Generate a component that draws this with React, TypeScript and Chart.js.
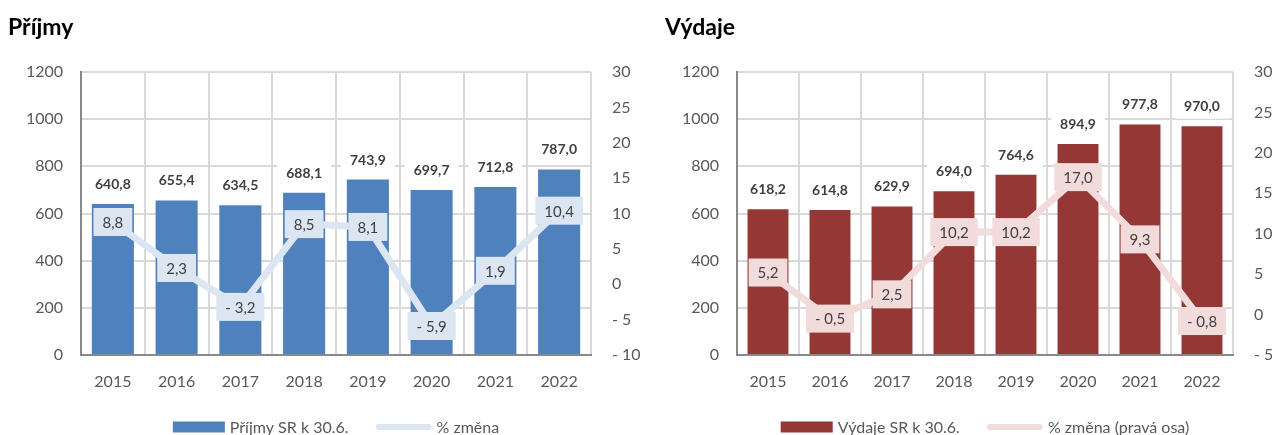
import React, { useEffect, useRef } from "react";
import { Chart, registerables } from "chart.js";

Chart.register(...registerables);

const years = ["2015", "2016", "2017", "2018", "2019", "2020", "2021", "2022"];
const prijmy = [640.8, 655.4, 634.5, 688.1, 743.9, 699.7, 712.8, 787.0];
const prijmyChange = [8.8, 2.3, -3.2, 8.5, 8.1, -5.9, 1.9, 10.4];
const vydaje = [618.2, 614.8, 629.9, 694.0, 764.6, 894.9, 977.8, 970.0];
const vydajeChange = [5.2, -0.5, 2.5, 10.2, 10.2, 17.0, 9.3, -0.8];

const leftAxis = { min: 0, max: 1200, step: 200 };
const prijmyRightAxis = { min: -10, max: 30, step: 5 };
const vydajeRightAxis = { min: -5, max: 30, step: 5 };

const FONT = "Lato, 'Open Sans', sans-serif";
const GRID = "#d9d9d9";
const AXIS = "#898989";
const TICK = "#595959";
const LABEL = "#404040";

const fmtVal = (v: number) =>
  (v < 0 ? "- " : "") + Math.abs(v).toFixed(1).replace(".", ",");
const fmtTick = (v: number) => (v < 0 ? "- " + Math.abs(v) : String(v));

const valueLabels = {
  id: "valueLabels",
  afterDatasetDraw(chart: any, args: any, opts: any) {
    const ctx = chart.ctx;
    const meta = chart.getDatasetMeta(args.index);
    const ds = chart.data.datasets[args.index];
    ctx.save();
    ctx.textAlign = "center";
    ctx.textBaseline = "middle";
    if (ds.type === "bar") {
      ctx.font = `bold 14px ${FONT}`;
      meta.data.forEach((el: any, i: number) => {
        const t = fmtVal(ds.data[i]);
        const w = ctx.measureText(t).width + 18;
        const cy = el.y - 20.5;
        ctx.fillStyle = "#ffffff";
        ctx.fillRect(el.x - w / 2, cy - 13, w, 26);
        ctx.fillStyle = LABEL;
        ctx.fillText(t, el.x, cy + 1);
      });
    } else {
      ctx.font = `15px ${FONT}`;
      meta.data.forEach((el: any, i: number) => {
        const t = fmtVal(ds.data[i]);
        const w = ctx.measureText(t).width + 18;
        ctx.fillStyle = opts.lineBox;
        ctx.fillRect(el.x - w / 2, el.y - 14, w, 28);
        ctx.fillStyle = LABEL;
        ctx.fillText(t, el.x, el.y + 1);
      });
    }
    ctx.restore();
  },
};

const customLegend = {
  id: "customLegend",
  afterDraw(chart: any, _args: any, opts: any) {
    const { ctx, chartArea } = chart;
    const items = opts.items as { kind: string; color: string; text: string }[];
    ctx.save();
    ctx.font = `16px ${FONT}`;
    const sw = (k: string) => (k === "box" ? 52 : 56);
    const gapIn = 5;
    const gapOut = 27;
    let total = 0;
    items.forEach((it, i) => {
      total += sw(it.kind) + gapIn + ctx.measureText(it.text).width;
      if (i < items.length - 1) total += gapOut;
    });
    let x = (chartArea.left + chartArea.right) / 2 - total / 2;
    const y = opts.y;
    items.forEach((it) => {
      const w = sw(it.kind);
      if (it.kind === "box") {
        ctx.fillStyle = it.color;
        ctx.fillRect(x, y - 5.5, w, 11);
      } else {
        ctx.strokeStyle = it.color;
        ctx.lineWidth = 6;
        ctx.lineCap = "round";
        ctx.beginPath();
        ctx.moveTo(x + 3, y);
        ctx.lineTo(x + w - 3, y);
        ctx.stroke();
      }
      x += w + gapIn;
      ctx.fillStyle = TICK;
      ctx.textAlign = "left";
      ctx.textBaseline = "middle";
      ctx.fillText(it.text, x, y + 1);
      x += ctx.measureText(it.text).width + gapOut;
    });
    ctx.restore();
  },
};

type Cfg = {
  title: string;
  bars: number[];
  change: number[];
  barColor: string;
  lineColor: string;
  barName: string;
  lineName: string;
  padLeft: number;
  yWidth: number;
  rWidth: number;
  right: { min: number; max: number; step: number };
};

function makeChart(canvas: HTMLCanvasElement, c: Cfg) {
  return new Chart(canvas, {
    type: "bar",
    data: {
      labels: years,
      datasets: [
        {
          type: "line",
          label: c.lineName,
          data: c.change,
          yAxisID: "y1",
          borderColor: c.lineColor,
          backgroundColor: c.lineColor,
          borderWidth: 7,
          pointRadius: 0,
          tension: 0,
          borderJoinStyle: "round",
          order: 0,
        } as any,
        {
          type: "bar",
          label: c.barName,
          data: c.bars,
          yAxisID: "y",
          backgroundColor: c.barColor,
          categoryPercentage: 1,
          barPercentage: 0.66,
          order: 1,
        } as any,
      ],
    },
    options: {
      responsive: false,
      animation: false,
      layout: { padding: { left: c.padLeft, right: 0, top: 0, bottom: 40 } },
      plugins: {
        legend: { display: false },
        tooltip: { enabled: false },
        title: {
          display: true,
          text: c.title,
          align: "start",
          color: "#000000",
          font: { family: FONT, size: 23, weight: "bold", lineHeight: 1 },
          padding: { top: 16, bottom: 33 },
        },
        valueLabels: { lineBox: c.lineColor },
        customLegend: {
          y: 427,
          items: [
            { kind: "box", color: c.barColor, text: c.barName },
            { kind: "line", color: c.lineColor, text: c.lineName },
          ],
        },
      } as any,
      scales: {
        x: {
          grid: {
            offset: true,
            color: (ctx: any) => (ctx.index === 0 ? AXIS : GRID),
            lineWidth: 2,
            drawTicks: false,
          },
          border: { color: AXIS, width: 2 },
          ticks: { color: TICK, font: { family: FONT, size: 16 }, padding: 17, maxRotation: 0, autoSkip: false },
          afterFit: (s: any) => {
            s.height = 40;
          },
        },
        y: {
          position: "left",
          min: leftAxis.min,
          max: leftAxis.max,
          grid: {
            color: (ctx: any) => (ctx.tick && ctx.tick.value === 0 ? AXIS : GRID),
            lineWidth: 2,
            drawTicks: false,
          },
          border: { color: AXIS, width: 2 },
          ticks: {
            stepSize: leftAxis.step,
            color: TICK,
            font: { family: FONT, size: 16 },
            padding: 18,
            callback: (v: any) => String(v),
          },
          afterFit: (s: any) => {
            s.width = c.yWidth;
          },
        },
        y1: {
          position: "right",
          min: c.right.min,
          max: c.right.max,
          grid: { drawOnChartArea: false, drawTicks: false },
          border: { display: false },
          ticks: {
            stepSize: c.right.step,
            color: TICK,
            font: { family: FONT, size: 16 },
            padding: 21,
            callback: (v: any) => fmtTick(Number(v)),
          },
          afterFit: (s: any) => {
            s.width = c.rWidth;
          },
        },
      },
    } as any,
    plugins: [valueLabels, customLegend] as any,
  });
}

function ChartBox(props: { cfg: Cfg; left: number; width: number }) {
  const ref = useRef<HTMLCanvasElement | null>(null);
  useEffect(() => {
    if (!ref.current) return;
    const ch = makeChart(ref.current, props.cfg);
    return () => ch.destroy();
  }, []);
  return (
    <canvas
      ref={ref}
      width={props.width}
      height={435}
      style={{ position: "absolute", left: props.left, top: 0, width: props.width, height: 435 }}
    />
  );
}

const prijmyCfg: Cfg = {
  title: "Příjmy",
  bars: prijmy,
  change: prijmyChange,
  barColor: "#4f81bd",
  lineColor: "#dce6f2",
  barName: "Příjmy SR k 30.6.",
  lineName: "% změna",
  padLeft: 8,
  yWidth: 73,
  rWidth: 49,
  right: prijmyRightAxis,
};

const vydajeCfg: Cfg = {
  title: "Výdaje",
  bars: vydaje,
  change: vydajeChange,
  barColor: "#953735",
  lineColor: "#f2dcdb",
  barName: "Výdaje SR k 30.6.",
  lineName: "% změna (pravá osa)",
  padLeft: 25,
  yWidth: 72,
  rWidth: 39,
  right: vydajeRightAxis,
};

export default function App() {
  return (
    <div style={{ position: "fixed", left: 0, top: 0, width: 1272, height: 435, background: "#ffffff" }}>
      <ChartBox cfg={prijmyCfg} left={0} width={640} />
      <ChartBox cfg={vydajeCfg} left={640} width={632} />
    </div>
  );
}
